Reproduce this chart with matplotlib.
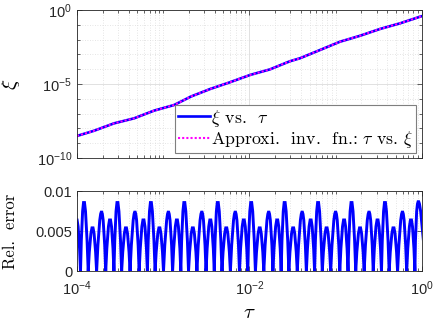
import numpy as np
import matplotlib
matplotlib.use('Agg')
import matplotlib.pyplot as plt
from matplotlib.path import Path
from matplotlib.patches import PathPatch
from matplotlib.ticker import FixedLocator, NullFormatter, FixedFormatter

plt.rcParams['font.family'] = ['Liberation Sans', 'DejaVu Sans']
plt.rcParams['mathtext.fontset'] = 'custom'
plt.rcParams['mathtext.rm'] = 'Liberation Sans'
plt.rcParams['mathtext.it'] = 'Liberation Sans:italic'
plt.rcParams['mathtext.bf'] = 'Liberation Sans:bold'

# ---------------- data ----------------
# top panel: log10(tau) and log10(xi)
tau_log = [-4.0, -3.803, -3.571, -3.338, -3.106, -2.874, -2.675, -2.456,
           -2.224, -1.992, -1.760, -1.528, -1.412, -1.179, -0.947, -0.715,
           -0.483, -0.251, -0.018, 0.0]
xi_log = [-8.51, -8.16, -7.66, -7.32, -6.80, -6.42, -5.84, -5.34,
          -4.88, -4.39, -4.01, -3.46, -3.26, -2.70, -2.14, -1.74,
          -1.28, -0.90, -0.45, -0.42]

# bottom panel: relative error humps (zeros and peaks in log10(tau))
err_zeros_log = [-4.0548,
    -3.9593, -3.8699, -3.7724, -3.6668,
    -3.5713, -3.4819, -3.3844, -3.2788,
    -3.1832, -3.0938, -2.9963, -2.8907,
    -2.7952, -2.7058, -2.6083, -2.5027,
    -2.4071, -2.3177, -2.2202, -2.1146,
    -2.0191, -1.9297, -1.8322, -1.7266,
    -1.6310, -1.5416, -1.4441, -1.3385,
    -1.2430, -1.1536, -1.0561, -0.9505,
    -0.8549, -0.7655, -0.6680, -0.5624,
    -0.4669, -0.3775, -0.2800, -0.1744,
    -0.0789, 0.045]
err_peaks_log = [-4.0049,
    -3.9187, -3.8200, -3.7156, -3.6169,
    -3.5307, -3.4320, -3.3276, -3.2289,
    -3.1426, -3.0439, -2.9395, -2.8408,
    -2.7546, -2.6559, -2.5515, -2.4528,
    -2.3665, -2.2678, -2.1634, -2.0647,
    -1.9785, -1.8798, -1.7754, -1.6767,
    -1.5904, -1.4917, -1.3873, -1.2886,
    -1.2024, -1.1037, -0.9993, -0.9006,
    -0.8143, -0.7156, -0.6112, -0.5125,
    -0.4263, -0.3276, -0.2232, -0.1245,
    -0.0383]
err_peaks_val = [0.0065] + [0.0087, 0.0055, 0.0074, 0.0065] * 10 + [0.0087]

xticks = [1e-4, 1e-2, 1e0]
xticklabels = [r'$10^{-4}$', r'$10^{-2}$', r'$10^{0}$']
yticks_top = [1e-10, 1e-5, 1e0]
yticklabels_top = [r'$10^{-10}$', r'$10^{-5}$', r'$10^{0}$']
yticks_bot = [0, 0.005, 0.01]
yticklabels_bot = ['0', '0.005', '0.01']

# ---------------- figure ----------------
fig = plt.figure(figsize=(4.36, 3.27), dpi=100)
ax1 = fig.add_axes([0.1766, 0.5168, 0.7906, 0.4526])
ax2 = fig.add_axes([0.1766, 0.1700, 0.7906, 0.2459])

blue = '#0000FF'
mag = '#FF00FF'
grid_c = '#DCDCDC'
spine_c = '#262626'

tau = [10 ** v for v in tau_log]
xi = [10 ** v for v in xi_log]
ax1.plot(tau, xi, color=blue, lw=1.9, label=r'$\xi$ vs.  $\tau$')
ax1.plot(tau, xi, color=mag, lw=1.5, ls=(0, (1, 1)),
         label=r'Approxi.  inv.  fn.: $\tau$ vs. $\xi$')
ax1.set_xscale('log')
ax1.set_yscale('log')
ax1.set_xlim(1e-4, 1)
ax1.set_ylim(1e-10, 1)

# bottom: error curve built from zeros/peaks as quadratic Bezier humps
verts = [(10 ** err_zeros_log[0], 0.0)]
codes = [Path.MOVETO]
for i in range(len(err_peaks_log)):
    x0 = err_zeros_log[i]
    x1 = err_zeros_log[i + 1]
    xp = err_peaks_log[i]
    h = err_peaks_val[i]
    xc = 2 * xp - 0.5 * (x0 + x1)
    verts += [(10 ** xc, 2 * h), (10 ** x1, 0.0)]
    codes += [Path.CURVE3, Path.CURVE3]
ax2.set_xscale('log')
ax2.set_xlim(1e-4, 1)
ax2.set_ylim(0, 0.01)
patch = PathPatch(Path(verts, codes), facecolor='none', edgecolor=blue,
                  lw=2.1, capstyle='butt', joinstyle='miter')
ax2.add_patch(patch)

minor_x = [m * 10.0 ** e for e in range(-4, 0) for m in range(2, 10)] + [1e-3, 1e-1]

for ax in (ax1, ax2):
    ax.xaxis.set_major_locator(FixedLocator(xticks))
    ax.xaxis.set_minor_locator(FixedLocator(minor_x))
    ax.xaxis.set_minor_formatter(NullFormatter())
    ax.tick_params(which='both', direction='in', top=True, right=True,
                   colors=spine_c, labelsize=10.5, labelcolor='#262626')
    ax.tick_params(which='major', length=3.5, width=0.5)
    ax.tick_params(which='minor', length=2, width=0.5)
    for s in ax.spines.values():
        s.set_color(spine_c)
        s.set_linewidth(0.6)
    ax.grid(True, which='major', color=grid_c, lw=0.6, ls='-')
    ax.grid(True, which='minor', axis='x', color=grid_c, lw=0.6, ls=(0, (1, 2)))
    ax.set_axisbelow(True)

ax1.xaxis.set_major_formatter(NullFormatter())
ax1.yaxis.set_major_locator(FixedLocator(yticks_top))
ax1.yaxis.set_major_formatter(FixedFormatter(yticklabels_top))
ax1.yaxis.set_minor_locator(FixedLocator([10.0 ** e for e in range(-9, 0) if e != -5]))
ax1.yaxis.set_minor_formatter(NullFormatter())
ax1.grid(True, which='minor', axis='y', color=grid_c, lw=0.6, ls=(0, (1, 2)))

ax2.xaxis.set_major_formatter(FixedFormatter(xticklabels))
ax2.yaxis.set_major_locator(FixedLocator(yticks_bot))
ax2.yaxis.set_major_formatter(FixedFormatter(yticklabels_bot))
ax2.tick_params(axis='x', which='major', pad=6)

ax1.set_ylabel(r'$\xi$', fontsize=15, math_fontfamily='cm')
ax1.yaxis.set_label_coords(-0.16, 0.5)
ax2.set_ylabel('Rel.  error', fontsize=12, fontfamily='cmr10')
ax2.yaxis.set_label_coords(-0.172, 0.5)
ax2.set_xlabel(r'$\tau$', fontsize=15, labelpad=3, math_fontfamily='cm')

leg = ax1.legend(loc='lower right', frameon=True, fancybox=False,
                 framealpha=1, edgecolor='#7F7F7F', borderaxespad=0.3,
                 handlelength=1.8, handletextpad=0.05, borderpad=0.15,
                 labelspacing=0.02, prop={'size': 12.8, 'family': 'cmr10'})
leg.get_frame().set_linewidth(0.8)
for t in leg.get_texts():
    t.set_math_fontfamily('cm')

fig.savefig('out.png', dpi=100)
